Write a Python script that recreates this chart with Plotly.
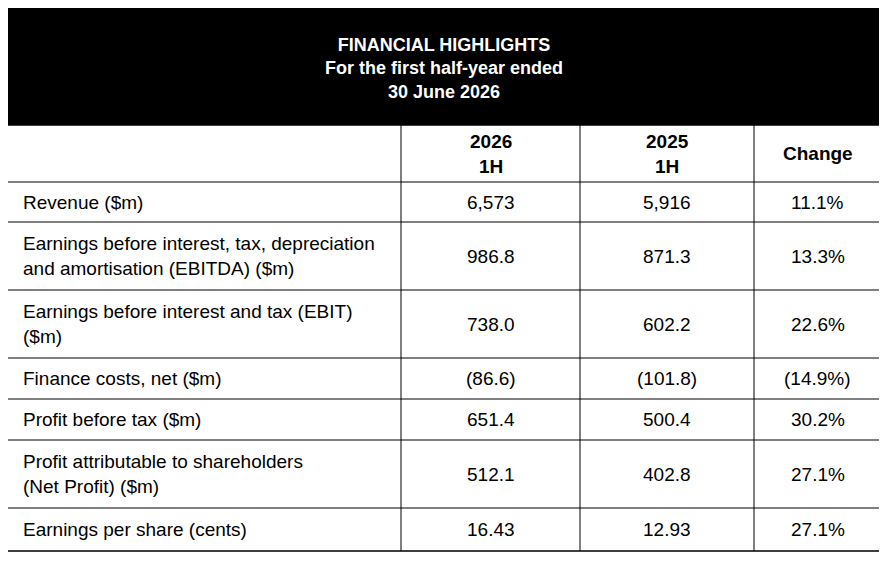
import plotly.graph_objects as go

title_lines = ["FINANCIAL HIGHLIGHTS", "For the first half-year ended", "30 June 2026"]
col_headers = ["", "2026<br>1H", "2025<br>1H", "Change"]
row_labels = [
    "Revenue ($m)",
    "Earnings before interest, tax, depreciation<br>and amortisation (EBITDA) ($m)",
    "Earnings before interest and tax (EBIT)<br>($m)",
    "Finance costs, net ($m)",
    "Profit before tax ($m)",
    "Profit attributable to shareholders<br>(Net Profit) ($m)",
    "Earnings per share (cents)",
]
val_2026 = ["6,573", "986.8", "738.0", "(86.6)", "651.4", "512.1", "16.43"]
val_2025 = ["5,916", "871.3", "602.2", "(101.8)", "500.4", "402.8", "12.93"]
change = ["11.1%", "13.3%", "22.6%", "(14.9%)", "30.2%", "27.1%", "27.1%"]

W, H = 887, 561
off = 7
xb = [v - off for v in [6, 400, 579, 753, 880]]
yb = [v - off for v in [6, 124, 181, 221, 289, 357, 398, 439, 507, 550]]

fig = go.Figure()
shapes = []
ann = []
font = dict(family="Liberation Sans, Arial, sans-serif", size=19, color="black")

shapes.append(dict(type="rect", x0=xb[0], x1=xb[-1], y0=yb[0], y1=yb[1], fillcolor="black", line=dict(color="black", width=1.5)))
shapes.append(dict(type="rect", x0=xb[0], x1=xb[-1], y0=yb[0], y1=yb[-1], line=dict(color="black", width=1.5)))
for y in yb[2:-1]:
    shapes.append(dict(type="line", x0=xb[0], x1=xb[-1], y0=y, y1=y, line=dict(color="black", width=1)))
for x in xb[1:-1]:
    shapes.append(dict(type="line", x0=x, x1=x, y0=yb[1], y1=yb[-1], line=dict(color="black", width=1)))

ann.append(dict(x=(xb[0]+xb[-1])/2, y=(yb[0]+yb[1])/2 + 2,
                text="<b>" + "</b><br><b>".join(title_lines) + "</b>", showarrow=False,
                font=dict(family="Liberation Sans, Arial, sans-serif", size=18, color="white"),
                xanchor="center", yanchor="middle"))

for j in range(1, 4):
    ann.append(dict(x=(xb[j]+xb[j+1])/2, y=(yb[1]+yb[2])/2,
                    text="<b>" + col_headers[j].replace("<br>", "</b><br><b>") + "</b>",
                    showarrow=False, font=font, xanchor="center", yanchor="middle"))

for i, lab in enumerate(row_labels):
    yc = (yb[2+i]+yb[3+i])/2
    ann.append(dict(x=xb[0]+14, y=yc, text=lab, showarrow=False, font=font, xanchor="left", yanchor="middle", align="left"))
    for j, v in enumerate([val_2026[i], val_2025[i], change[i]]):
        ann.append(dict(x=(xb[j+1]+xb[j+2])/2, y=yc, text=v, showarrow=False, font=font, xanchor="center", yanchor="middle"))

fig.update_layout(width=W, height=H, margin=dict(l=0, r=0, t=0, b=0), paper_bgcolor="white", plot_bgcolor="white",
                  xaxis=dict(range=[0, W], visible=False, fixedrange=True),
                  yaxis=dict(range=[H, 0], visible=False, fixedrange=True),
                  shapes=shapes, annotations=ann, showlegend=False)
fig.write_html("out.html")
